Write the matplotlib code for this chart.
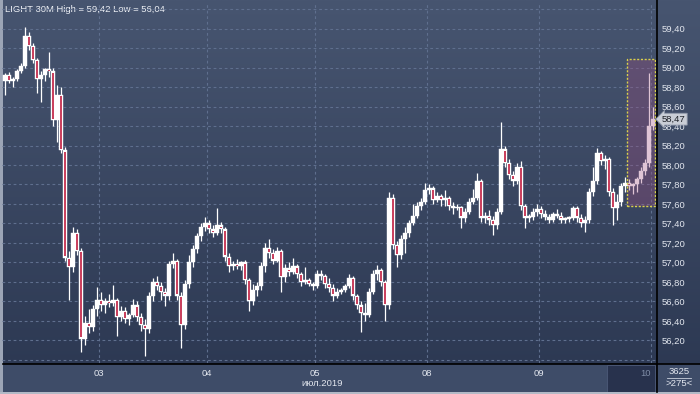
import numpy as np
import matplotlib
matplotlib.use("Agg")
import matplotlib.pyplot as plt
from matplotlib.patches import Rectangle
from matplotlib.lines import Line2D
from matplotlib.transforms import blended_transform_factory

# ---------------- data (30-minute candles, 02..10 Jul 2019) ----------------
opens = [
    # 02
    58.86, 58.92, 58.86, 58.88, 58.96, 59.02, 59.32, 59.22, 59.08, 58.88, 58.92, 58.98,
    58.96, 58.46, 58.72, 58.15, 57.05, 56.95, 57.30, 57.12, 56.22, 56.38, 56.34, 56.52,
    # 03
    56.62, 56.56, 56.60, 56.58, 56.62, 56.44, 56.50, 56.42, 56.46, 56.56, 56.44, 56.36,
    56.32, 56.66, 56.80, 56.76, 56.70, 56.66, 56.98, 57.02, 56.66, 56.36, 56.78, 57.00,
    57.14, 57.27, 57.36,
    # 04
    57.40, 57.34, 57.30, 57.38, 57.34, 57.06, 56.96, 56.98, 56.96, 57.00, 56.82, 56.60,
    56.72, 56.76, 56.96, 57.15, 57.10, 57.02, 57.12, 56.85, 56.94, 56.90, 56.96, 56.88,
    56.80, 56.82, 56.78,
    # 05
    56.76, 56.88, 56.86, 56.78, 56.74, 56.66, 56.70, 56.72, 56.76, 56.84, 56.66, 56.56,
    56.48, 56.46, 56.70, 56.88, 56.92, 56.80, 56.56, 57.66, 57.18, 57.08, 57.24, 57.30,
    57.40, 57.48, 57.58, 57.62,
    # 08
    57.74, 57.76, 57.64, 57.68, 57.64, 57.66, 57.58, 57.56, 57.57, 57.46, 57.52, 57.62,
    57.66, 57.84, 57.46, 57.48, 57.44, 57.38, 57.52, 58.16, 58.02, 57.90, 57.84, 57.98,
    57.58, 57.46, 57.47, 57.52,
    # 09
    57.55, 57.50, 57.47, 57.44, 57.50, 57.48, 57.44, 57.45, 57.46, 57.56, 57.46, 57.40,
    57.44, 57.72, 57.84, 58.12, 58.04, 58.06, 57.72, 57.56, 57.62, 57.78, 57.82, 57.78,
    57.80, 57.86, 57.94, 58.02,
    # 10
    58.40,
]
highs = [
    58.94, 58.95, 58.90, 58.98, 59.05, 59.42, 59.36, 59.25, 59.10, 58.96, 59.00, 59.16,
    59.00, 58.82, 58.80, 58.18, 57.12, 57.36, 57.34, 57.15, 56.45, 56.52, 56.56, 56.75,
    56.70, 56.64, 56.68, 56.77, 56.64, 56.55, 56.54, 56.48, 56.63, 56.60, 56.48, 56.42,
    56.70, 56.84, 56.86, 56.80, 56.74, 57.02, 57.10, 57.04, 56.70, 56.82, 57.08, 57.18,
    57.30, 57.40, 57.47,
    57.44, 57.38, 57.56, 57.42, 57.36, 57.10, 57.02, 57.04, 57.02, 57.03, 56.84, 56.78,
    56.80, 57.00, 57.20, 57.24, 57.14, 57.16, 57.14, 56.98, 57.00, 57.05, 56.98, 56.90,
    56.95, 56.84, 56.80,
    56.92, 56.92, 56.88, 56.84, 56.78, 56.74, 56.74, 56.78, 56.88, 56.86, 56.68, 56.60,
    56.58, 56.74, 56.92, 56.97, 56.94, 56.82, 57.72, 57.70, 57.22, 57.28, 57.36, 57.44,
    57.60, 57.62, 57.66, 57.82,
    57.80, 57.78, 57.72, 57.70, 57.74, 57.68, 57.62, 57.60, 57.58, 57.56, 57.66, 57.75,
    57.92, 57.86, 57.52, 57.54, 57.48, 57.56, 58.44, 58.20, 58.06, 57.94, 58.02, 58.04,
    57.60, 57.50, 57.56, 57.60,
    57.58, 57.54, 57.50, 57.52, 57.55, 57.52, 57.47, 57.48, 57.58, 57.58, 57.50, 57.48,
    57.76, 57.98, 58.17, 58.14, 58.10, 58.08, 57.76, 57.70, 57.82, 57.88, 57.86, 57.82,
    57.88, 57.98, 58.06, 58.94,
    58.60,
]
lows = [
    58.72, 58.84, 58.80, 58.86, 58.94, 59.00, 59.18, 59.05, 58.74, 58.65, 58.86, 58.90,
    58.40, 58.24, 58.12, 57.02, 56.62, 56.90, 57.08, 56.08, 56.15, 56.28, 56.30, 56.45,
    56.50, 56.48, 56.54, 56.55, 56.25, 56.40, 56.38, 56.36, 56.44, 56.40, 56.30, 56.04,
    56.28, 56.60, 56.72, 56.62, 56.55, 56.62, 56.94, 56.62, 56.12, 56.32, 56.74, 56.95,
    57.10, 57.22, 57.32,
    57.30, 57.26, 57.28, 57.30, 57.02, 56.90, 56.92, 56.93, 56.92, 56.78, 56.50, 56.56,
    56.66, 56.72, 56.90, 57.05, 56.98, 57.00, 56.70, 56.80, 56.86, 56.88, 56.84, 56.76,
    56.78, 56.76, 56.72,
    56.74, 56.82, 56.74, 56.70, 56.60, 56.64, 56.68, 56.70, 56.74, 56.62, 56.52, 56.29,
    56.40, 56.44, 56.68, 56.82, 56.76, 56.40, 56.52, 57.14, 56.95, 57.04, 57.10, 57.26,
    57.38, 57.46, 57.54, 57.60,
    57.70, 57.60, 57.62, 57.58, 57.58, 57.54, 57.50, 57.54, 57.35, 57.42, 57.50, 57.60,
    57.64, 57.42, 57.40, 57.38, 57.28, 57.34, 57.50, 57.98, 57.86, 57.78, 57.80, 57.54,
    57.35, 57.42, 57.44, 57.48,
    57.46, 57.44, 57.40, 57.42, 57.46, 57.40, 57.40, 57.42, 57.44, 57.42, 57.36, 57.31,
    57.40, 57.68, 57.80, 58.00, 57.96, 57.68, 57.38, 57.44, 57.58, 57.72, 57.74, 57.70,
    57.72, 57.82, 57.90, 57.98,
    58.36,
]
closes = [
    58.92, 58.86, 58.88, 58.96, 59.02, 59.32, 59.22, 59.08, 58.88, 58.92, 58.98, 58.96,
    58.46, 58.72, 58.15, 57.05, 56.95, 57.30, 57.12, 56.22, 56.38, 56.34, 56.52, 56.62,
    56.56, 56.60, 56.58, 56.62, 56.44, 56.50, 56.42, 56.46, 56.56, 56.44, 56.36, 56.32,
    56.66, 56.80, 56.76, 56.70, 56.66, 56.98, 57.02, 56.66, 56.36, 56.78, 57.00, 57.14,
    57.27, 57.36, 57.40,
    57.34, 57.30, 57.38, 57.34, 57.06, 56.96, 56.98, 56.96, 57.00, 56.82, 56.60, 56.72,
    56.76, 56.96, 57.15, 57.10, 57.02, 57.12, 56.85, 56.94, 56.90, 56.96, 56.88, 56.80,
    56.82, 56.78, 56.76,
    56.88, 56.86, 56.78, 56.74, 56.66, 56.70, 56.72, 56.76, 56.84, 56.66, 56.56, 56.48,
    56.46, 56.70, 56.88, 56.92, 56.80, 56.56, 57.66, 57.18, 57.08, 57.24, 57.30, 57.40,
    57.48, 57.58, 57.62, 57.74,
    57.76, 57.64, 57.68, 57.64, 57.66, 57.58, 57.56, 57.57, 57.46, 57.52, 57.62, 57.66,
    57.84, 57.46, 57.48, 57.44, 57.38, 57.52, 58.16, 58.02, 57.90, 57.84, 57.98, 57.58,
    57.46, 57.47, 57.52, 57.55,
    57.50, 57.47, 57.44, 57.50, 57.48, 57.44, 57.45, 57.46, 57.56, 57.46, 57.40, 57.44,
    57.72, 57.84, 58.12, 58.04, 58.06, 57.72, 57.56, 57.62, 57.78, 57.82, 57.78, 57.80,
    57.86, 57.94, 58.02, 58.40,
    58.47,
]

day_labels = ["03", "04", "05", "08", "09", "10"]
day_starts = [24, 51, 78, 106, 134, 162]          # first candle index of each day
month_label = "июл.2019"
price_ticks = [56.0, 56.2, 56.4, 56.6, 56.8, 57.0, 57.2, 57.4, 57.6, 57.8,
               58.0, 58.2, 58.4, 58.6, 58.8, 59.0, 59.2, 59.4, 59.6]
labeled_range = (56.2, 59.4)
highlight_first, highlight_last = 156, 162        # candle index range of the box
highlight_low, highlight_high = 57.58, 59.09
volume_text = "3625"
range_text = ">275<"
ticker = "LIGHT 30M"

# ---------------- figure ----------------
W, H = 700, 394
plt.rcParams['font.family'] = ['Liberation Sans', 'DejaVu Sans']
fig = plt.figure(figsize=(W / 100, H / 100), dpi=100)

def fy(t):
    return 1 - t / H

# background gradient
bg = fig.add_axes([0, 0, 1, 1], zorder=-10)
top = np.array([0x47, 0x55, 0x70]) / 255
bot = np.array([0x2b, 0x37, 0x51]) / 255
g = np.linspace(0, 1, 256)[:, None]
grad = top[None, None, :] * (1 - g[..., None]) + bot[None, None, :] * g[..., None]
grad = np.repeat(grad, 2, axis=1)
bg.imshow(grad, aspect='auto', extent=[0, 1, 0, 1])
bg.set_axis_off()

o = np.array(opens); h = np.array(highs); l = np.array(lows); c = np.array(closes)
n = len(c)
x = np.arange(n)

ax = fig.add_axes([2 / W, fy(363), 654 / W, 361 / H], zorder=5)
ax.patch.set_alpha(0)
ax.set_xlim(-0.75, 162.75)
ax.set_ylim(55.969, 59.672)
for s in ax.spines.values():
    s.set_visible(False)

# grid / ticks
ax.set_xticks([d - 0.5 for d in day_starts])
ax.set_xticklabels(day_labels)
ax.set_yticks(price_ticks)
ax.set_yticklabels([f"{v:.2f}".replace('.', ',') if labeled_range[0] - 1e-9 <= v <= labeled_range[1] + 1e-9 else ""
                    for v in price_ticks])
ax.grid(True, color='#5f6f8e', linestyle=(0, (2.5, 2.5)), linewidth=0.8, zorder=0)
ax.set_axisbelow(True)
ax.yaxis.tick_right()
ax.tick_params(axis='y', length=0, pad=4, labelsize=6.8, labelcolor='#e2e6ee')
ax.tick_params(axis='x', length=0, pad=4, labelsize=6.8, labelcolor='#e2e6ee')
ax.get_xticklabels()[-1].set_color('#7f8ca6')
ax.get_xticklabels()[-1].set_horizontalalignment('right')

# candles: white wicks and bodies, falling candles get a red core
up = c >= o
ax.vlines(x, l, h, color='white', linewidth=0.9, zorder=3)
body_lo = np.minimum(o, c)
body_h = np.maximum(np.abs(c - o), 0.012)
ax.bar(x, body_h, bottom=body_lo, width=0.8, color='white',
       edgecolor='white', linewidth=0.3, zorder=4)
dn = ~up
ax.vlines(x[dn], c[dn] + 0.012, o[dn] - 0.012, color='#c01c40', linewidth=1.2, zorder=5)

# highlight box
ax.add_patch(Rectangle((highlight_first - 0.45, highlight_low),
                       highlight_last - highlight_first + 0.95, highlight_high - highlight_low,
                       facecolor=(0.62, 0.30, 0.50, 0.33), edgecolor='#d9d24a',
                       linestyle=(0, (1.5, 1.2)), linewidth=1.0, zorder=6))

# last price label
bt = blended_transform_factory(ax.transAxes, ax.transData)
ax.annotate(f"{c[-1]:.2f}".replace('.', ','), xy=(1.0, c[-1]), xycoords=bt,
            xytext=(6, 0), textcoords='offset pixels', ha='left', va='center',
            fontsize=6.8, color='#1c1f26', annotation_clip=False,
            bbox=dict(boxstyle='larrow,pad=0.15', fc='#c9cdd6', ec='#8e97a9', lw=0.6),
            zorder=10)

# title
fig.text(5 / W, fy(10), f"{ticker} High = {h.max():.2f}".replace('.', ',') +
         f" Low = {l.min():.2f}".replace('.', ','),
         fontsize=6.8, color='#eef1f6', va='center', ha='left')

# bottom strip and frame
fig.patches.append(Rectangle((2 / W, fy(392)), 654 / W, 28 / H, transform=fig.transFigure,
                             fc='#3e4c68', ec='none', zorder=1))
fig.patches.append(Rectangle((657 / W, fy(392)), 43 / W, 28 / H, transform=fig.transFigure,
                             fc='#3e4c68', ec='none', zorder=1))
fig.patches.append(Rectangle((607 / W, fy(392)), 48 / W, 27.5 / H, transform=fig.transFigure,
                             fc='#28324d', ec='#4d5a78', lw=0.6, zorder=2))
fig.patches.append(Rectangle((0, 0), 2.5 / W, 1, transform=fig.transFigure,
                             fc='#9ca5b6', ec='none', zorder=3))
fig.patches.append(Rectangle((0, 0), 1, 2 / H, transform=fig.transFigure,
                             fc='#b2b9c6', ec='none', zorder=3))
fig.lines.append(Line2D([656.5 / W, 656.5 / W], [2 / H, 1], transform=fig.transFigure,
                        color='black', lw=1.2, zorder=4))
fig.lines.append(Line2D([2.5 / W, 1], [fy(363.8)] * 2, transform=fig.transFigure,
                        color='black', lw=1.2, zorder=4))
fig.lines.append(Line2D([667 / W, 691 / W], [fy(378)] * 2, transform=fig.transFigure,
                        color='#c9d0dc', lw=0.6, zorder=4))

fig.text(322 / W, fy(383), month_label, fontsize=6.8, color='#e2e6ee', ha='center', va='center')
fig.text(679 / W, fy(371), volume_text, fontsize=6.8, color='#e2e6ee', ha='center', va='center')
fig.text(679 / W, fy(384), range_text, fontsize=6.8, color='#e2e6ee', ha='center', va='center')

fig.savefig("out.png", dpi=100)
